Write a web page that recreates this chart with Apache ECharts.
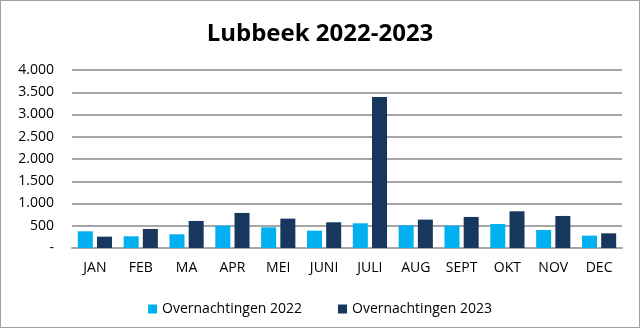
<!DOCTYPE html>
<html><head><meta charset="utf-8">
<script src="https://cdn.jsdelivr.net/npm/echarts@6/dist/echarts.min.js"></script>
<style>
html,body{margin:0;padding:0;background:#fff;}
#c{position:absolute;left:0;top:0;width:638px;height:326px;border:1px solid #a0a0a0;}
</style></head>
<body><div id="c"></div>
<script>
const categories = ['JAN','FEB','MA','APR','MEI','JUNI','JULI','AUG','SEPT','OKT','NOV','DEC'];
const values2022 = [375, 263, 308, 503, 465, 390, 555, 510, 503, 540, 405, 278];
const values2023 = [255, 428, 608, 788, 660, 578, 3391, 638, 698, 825, 720, 330];
const seriesNames = ['Overnachtingen 2022', 'Overnachtingen 2023'];
const yTicks = { min: 0, max: 4000, interval: 500 };

const chart = echarts.init(document.getElementById('c'));
const font = 'Open Sans, Liberation Sans, sans-serif';
chart.setOption({
  animation: false,
  title: { text: 'Lubbeek 2022-2023', left: 'center', top: 16,
    textStyle: { fontFamily: font, fontSize: 24, fontWeight: 'bold', color: '#000' } },
  grid: { left: 71, right: 17, top: 69, bottom: 79 },
  legend: { bottom: 6, left: 'center', itemWidth: 9, itemHeight: 9, itemGap: 36, icon: 'rect',
    textStyle: { fontFamily: font, fontSize: 14, color: '#000' }, data: seriesNames },
  xAxis: { type: 'category', data: categories,
    axisLine: { lineStyle: { color: '#a6a6a6', width: 2 } }, axisTick: { show: false },
    axisLabel: { fontFamily: font, fontSize: 14, color: '#000', margin: 13 } },
  yAxis: { type: 'value', min: yTicks.min, max: yTicks.max, interval: yTicks.interval,
    axisLine: { show: false }, axisTick: { show: false },
    splitLine: { lineStyle: { color: '#a6a6a6', width: 2 } },
    axisLabel: { fontFamily: font, fontSize: 14, color: '#000', margin: 18,
      formatter: v => v === 0 ? '-' : v.toLocaleString('de-DE') } },
  series: [
    { name: seriesNames[0], type: 'bar', data: values2022, barWidth: 15, barGap: '28%',
      itemStyle: { color: '#00B0F0' } },
    { name: seriesNames[1], type: 'bar', data: values2023, barWidth: 15,
      itemStyle: { color: '#17375E' } }
  ]
});
</script></body></html>
